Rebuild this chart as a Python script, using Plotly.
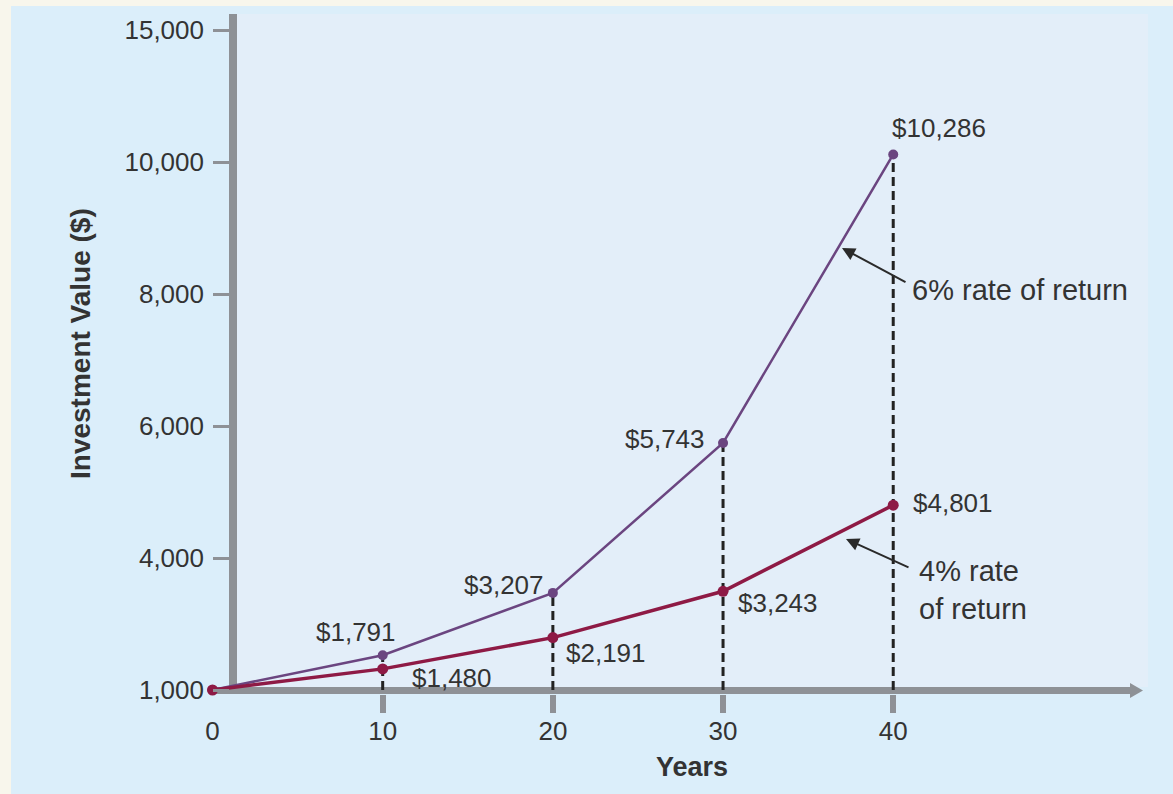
import numpy as np
import plotly.graph_objects as go

# ---- data ----
years = [0, 10, 20, 30, 40]
value_6pct = [1000, 1791, 3207, 5743, 10286]
value_4pct = [1000, 1480, 2191, 3243, 4801]
ytick_values = [1000, 4000, 6000, 8000, 10000, 15000]
ytick_labels = ["1,000", "4,000", "6,000", "8,000", "10,000", "15,000"]
xtick_values = [0, 10, 20, 30, 40]
label_6pct = ["", "$1,791", "$3,207", "$5,743", "$10,286"]
label_4pct = ["", "$1,480", "$2,191", "$3,243", "$4,801"]

# ---- geometry ----
W, H = 1173, 794
L, R, T, B = 204, 16, 10, 100
PW, PH = W - L - R, H - T - B
X0, X1 = -0.5, 55.5
PXU = PW / (X1 - X0)
YPX = 132.0  # pixels per scale unit
Y1 = (690 - T) / YPX
Y0 = -(H - B - 690) / YPX

def ys(v):
    # piecewise-linear value scale matching the evenly spaced ticks
    return np.interp(v, ytick_values, np.arange(len(ytick_values)))

def px2x(px):
    return X0 + (px - L) / PXU

def px2y(py):
    return (690 - py) / YPX

def paperx(px):
    return (px - L) / PW

def papery(py):
    return (H - B - py) / PH

y6 = ys(np.array(value_6pct, dtype=float))
y4 = ys(np.array(value_4pct, dtype=float))
yt = ys(np.array(ytick_values, dtype=float))

C6 = "#6b4580"
C4 = "#8e1a45"
GRAY = "#8e9196"
TXT = "#333333"
BLUE = "#dbeefa"
FONT = "Arial, Liberation Sans, Helvetica, sans-serif"

fig = go.Figure()
fig.add_trace(go.Scatter(x=years, y=y6, mode="lines+markers",
                         line=dict(color=C6, width=2.5),
                         marker=dict(color=C6, size=10),
                         cliponaxis=False, showlegend=False, hoverinfo="skip"))
fig.add_trace(go.Scatter(x=years, y=y4, mode="lines+markers",
                         line=dict(color=C4, width=3.5),
                         marker=dict(color=C4, size=11),
                         cliponaxis=False, showlegend=False, hoverinfo="skip"))
# tick-mark-only axis
fig.add_trace(go.Scatter(x=[None], y=[None], xaxis="x2", showlegend=False))

shapes = []
# cream edge strips
shapes.append(dict(type="rect", xref="paper", yref="paper",
                   x0=paperx(0), x1=paperx(11), y0=papery(H), y1=papery(0),
                   fillcolor="#f8f6ec", line=dict(width=0), layer="below"))
shapes.append(dict(type="rect", xref="paper", yref="paper",
                   x0=paperx(0), x1=paperx(W), y0=papery(6), y1=papery(0),
                   fillcolor="#f8f6ec", line=dict(width=0), layer="below"))
# lighter plotting panel
shapes.append(dict(type="rect", xref="paper", yref="paper",
                   x0=paperx(237), x1=paperx(1148), y0=papery(687), y1=papery(14),
                   fillcolor="#e3eef9", line=dict(width=0), layer="below"))
# dashed drop lines
for xv, top in zip(years[1:], y6[1:]):
    shapes.append(dict(type="line", xref="x", yref="y", x0=xv, x1=xv,
                       y0=0, y1=top, line=dict(color="#222222", width=3, dash="9px,5px"),
                       layer="below"))
# axis lines
shapes.append(dict(type="line", xref="paper", yref="paper",
                   x0=paperx(233), x1=paperx(233), y0=papery(694), y1=papery(14),
                   line=dict(color=GRAY, width=8), layer="below"))
shapes.append(dict(type="line", xref="paper", yref="paper",
                   x0=paperx(213), x1=paperx(1132), y0=papery(690.5), y1=papery(690.5),
                   line=dict(color=GRAY, width=7), layer="below"))
shapes.append(dict(type="path", xref="paper", yref="paper",
                   path="M {} {} L {} {} L {} {} Z".format(
                       paperx(1130), papery(683), paperx(1143), papery(690.5),
                       paperx(1130), papery(698)),
                   fillcolor=GRAY, line=dict(width=0), layer="below"))

ann = []
# value labels
off6 = [None, ("right", 15, 23), ("right", -7, 8), ("right", -16, 4), ("left", -3, 26)]
off4 = [None, ("left", 27, -9), ("left", 11, -15), ("left", 13, -12), ("left", 18, 2)]
for xv, yv, txt, o in zip(years, y6, label_6pct, off6):
    if o is None:
        continue
    ann.append(dict(x=xv, y=yv, text=txt, showarrow=False, xanchor=o[0], yanchor="middle",
                    xshift=o[1], yshift=o[2], font=dict(size=26, color=TXT, family=FONT)))
for xv, yv, txt, o in zip(years, y4, label_4pct, off4):
    if o is None:
        continue
    ann.append(dict(x=xv, y=yv, text=txt, showarrow=False, xanchor=o[0], yanchor="middle",
                    xshift=o[1], yshift=o[2], font=dict(size=26, color=TXT, family=FONT)))

# series callouts
ann.append(dict(x=px2x(910), y=px2y(290), text="6% rate of return", showarrow=False,
                xanchor="left", yanchor="middle", font=dict(size=29, color=TXT, family=FONT)))
ann.append(dict(x=px2x(842), y=px2y(248), text="", showarrow=True, ax=65, ay=35,
                arrowhead=2, arrowsize=1.3, arrowwidth=2, arrowcolor="#2a2a2a"))
ann.append(dict(x=px2x(917), y=px2y(590), text="4% rate<br>of return", showarrow=False,
                xanchor="left", yanchor="middle", align="left",
                font=dict(size=29, color=TXT, family=FONT)))
ann.append(dict(x=px2x(846), y=px2y(539), text="", showarrow=True, ax=64, ay=29,
                arrowhead=2, arrowsize=1.3, arrowwidth=2, arrowcolor="#2a2a2a"))

# axis titles
ann.append(dict(xref="paper", yref="paper", x=paperx(80), y=papery(344),
                text="<b>Investment Value ($)</b>", textangle=-90, showarrow=False,
                xanchor="center", yanchor="middle",
                font=dict(size=28, color=TXT, family=FONT)))
ann.append(dict(xref="paper", yref="paper", x=paperx(692), y=papery(767),
                text="<b>Years</b>", showarrow=False, xanchor="center", yanchor="middle",
                font=dict(size=27, color=TXT, family=FONT)))

fig.update_layout(
    width=W, height=H,
    margin=dict(l=L, r=R, t=T, b=B, pad=0),
    paper_bgcolor=BLUE, plot_bgcolor=BLUE,
    shapes=shapes, annotations=ann,
    showlegend=False,
    xaxis=dict(range=[X0, X1], tickvals=xtick_values, ticktext=[str(v) for v in xtick_values],
               ticks="outside", ticklen=14, tickcolor="rgba(0,0,0,0)",
               showgrid=False, zeroline=False, showline=False,
               tickfont=dict(size=26, color=TXT, family=FONT)),
    xaxis2=dict(range=[X0, X1], overlaying="x", anchor="y", side="bottom",
                tickvals=xtick_values[1:], ticks="outside", ticklen=18, tickwidth=6,
                tickcolor=GRAY, showticklabels=False, showgrid=False, zeroline=False,
                showline=False),
    yaxis=dict(range=[Y0, Y1], tickvals=list(yt), ticktext=ytick_labels,
               anchor="free", position=paperx(212),
               ticks="inside", ticklen=16, tickwidth=3, tickcolor=GRAY,
               ticklabelstandoff=8,
               showgrid=False, zeroline=False, showline=False,
               tickfont=dict(size=26, color=TXT, family=FONT)),
)

fig.write_html("out.html")
